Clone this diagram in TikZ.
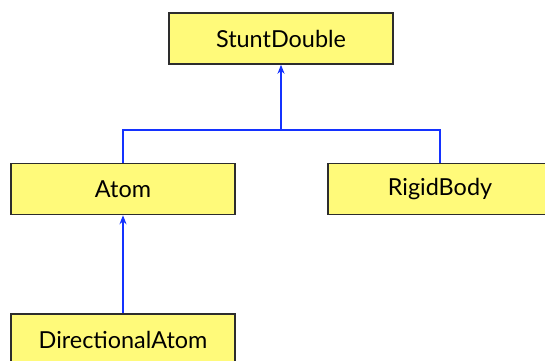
\documentclass[tikz,border=0pt]{standalone}
\usepackage{fontspec}
\setmainfont{Lato}
\usetikzlibrary{arrows.meta}
\definecolor{boxfill}{RGB}{255,250,122}
\definecolor{boxline}{RGB}{45,45,45}
\definecolor{conn}{RGB}{20,50,255}
\begin{document}
\begin{tikzpicture}[x=1bp,y=-1bp,
  cls/.style={draw=boxline,fill=boxfill,line width=1.5bp,minimum width=224bp,minimum height=51bp,inner sep=0pt,font=\fontsize{23.5}{28}\selectfont},
  link/.style={draw=conn,line width=2bp},
  tip/.style={-{Stealth[length=9bp,width=7bp]}}]
\useasboundingbox (0,0) rectangle (545,360);
\node[cls] (sd) at (281,38.5) {StuntDouble};
\node[cls] (atom) at (123,189) {Atom};
\node[cls] (rb) at (440,189) {RigidBody};
\node[cls] (da) at (123,339.5) {DirectionalAtom};
\coordinate (j) at (281,130);
\draw[link,tip] (j) -- (sd.south);
\draw[link] (atom.north) |- (j) -| (rb.north);
\draw[link,tip] (da.north) -- (atom.south);
\end{tikzpicture}
\end{document}
